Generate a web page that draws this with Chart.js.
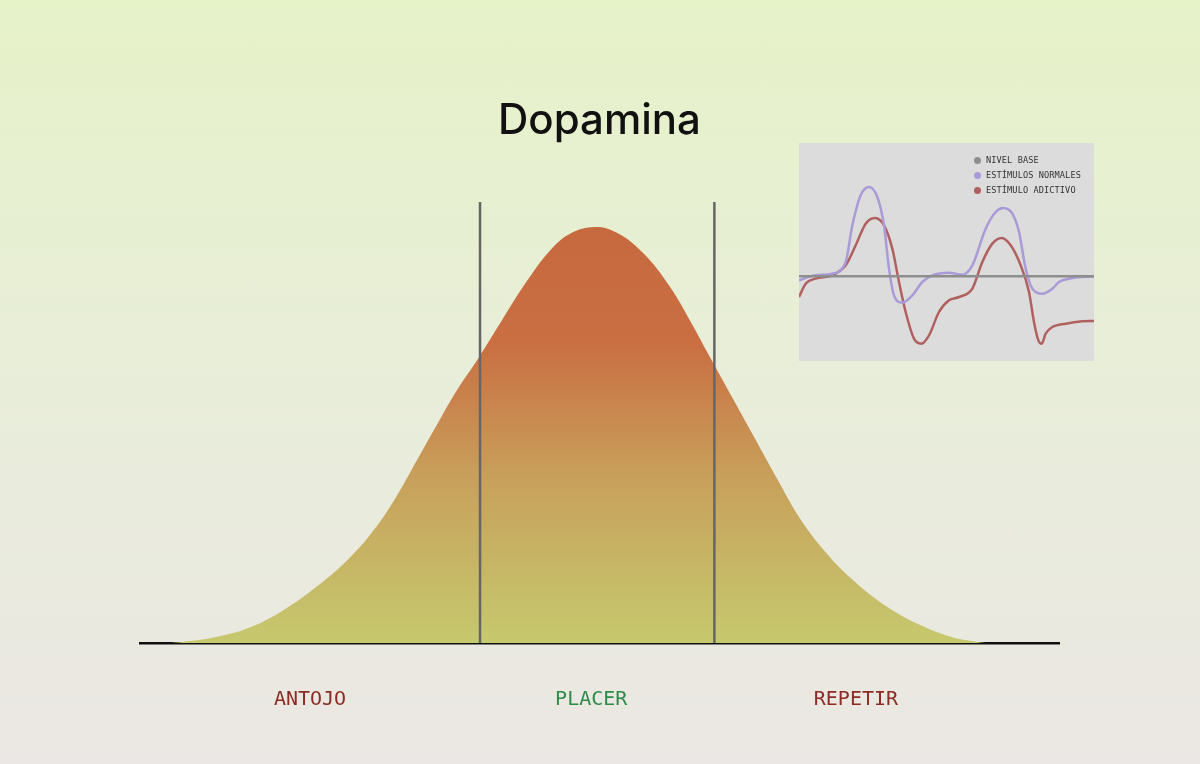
<!DOCTYPE html>
<html lang="es">
<head>
<meta charset="utf-8">
<title>Dopamina</title>
<script src="https://cdn.jsdelivr.net/npm/chart.js@4.4.1/dist/chart.umd.min.js"></script>
<style>
  html, body { margin: 0; padding: 0; }
  body {
    width: 1200px; height: 764px; overflow: hidden; position: relative;
    background: linear-gradient(to bottom, #e6f2c8 0%, #e8eed8 45%, #ebe7e4 100%);
  }
  #main { position: absolute; left: 0; top: 0; width: 1200px; height: 764px; }
  #inset {
    position: absolute; left: 799px; top: 143px; width: 295px; height: 218px;
    background: #dcdcdc;
  }
  #legend {
    position: absolute; left: 974px; top: 153px;
    font: 8.6px "DejaVu Sans Mono", monospace; color: #333;
    line-height: 15px; letter-spacing: 0.1px;
  }
  #legend span.dot {
    display: inline-block; width: 7px; height: 7px; border-radius: 50%;
    margin-right: 5px; vertical-align: -1px;
  }
</style>
</head>
<body>
<div id="main"><canvas id="dopaChart"></canvas></div>
<div id="inset"><canvas id="insetChart"></canvas></div>
<div id="legend"></div>
<script>
// === Curva principal ===
const curveX = [3, 4.4, 8.4, 12, 15.6, 19.2, 22.9, 25.8, 27.9, 30.1, 32.3, 34.5, 36.8, 39.5, 42.1, 44.6, 46.8, 49.5,
  51.9, 54.8, 57.7, 59.9, 61.8, 64.6, 66.7, 69.3, 71.8, 74.7, 77.6, 81.3, 84.9, 88.5, 91, 92];
const curveY = [0, 0.2, 1.5, 3.8, 7.9, 13.5, 20.7, 28.2, 35.2, 43.8, 52.4, 60.8, 68.4, 78.0, 87.0, 94.3, 98.4, 100,
  98.6, 93.6, 85.5, 77.3, 69.6, 58.4, 50.0, 39.6, 30.0, 21.6, 15.1, 8.7, 4.3, 1.3, 0.3, 0];
const splitX = [37, 62.5];
const splitTop = 106;
const phaseLabels = ['ANTOJO', 'PLACER', 'REPETIR'];
const phaseTicks = [18.5, 49.1, 77.9];
const phaseColors = ['#8c2c24', '#2e8c48', '#8c2c24'];

// === Gráfico pequeño ===
const baseX = [0, 88.5];
const baseY = [0, 0];
const normalX = [0, 5, 10, 14, 16, 18.5, 21, 23.5, 25.5, 27, 28.5, 31, 34, 37, 40, 45, 49, 52, 56, 59, 61.2, 64, 66,
  68, 70, 73, 76, 78, 82, 88.5];
const normalY = [-1.2, 0.3, 0.8, 4.3, 15.3, 24.3, 26.8, 23.8, 15.3, 2.3, -5.7, -7.9, -5.7, -1.7, 0.3, 1.1, 0.5, 3.3,
  14.3, 19.3, 20.5, 18.8, 13.3, 2.3, -3.7, -5.2, -3.7, -1.7, -0.5, 0];
const addictX = [0, 2, 5, 10, 14, 17, 20, 22.8, 25.5, 28, 30, 32, 34.5, 36.7, 39, 42, 45, 48, 52, 55, 58, 60.8, 63.5,
  66.5, 69, 70.5, 71.8, 72.8, 74, 76, 80, 85, 88.5];
const addictY = [-6.2, -2.2, -0.7, 0.3, 3.3, 9.3, 15.8, 17.5, 15.3, 8.3, -1.7, -10.7, -18.7, -20.2, -17.7, -10.7, -7.2,
  -6.2, -3.7, 4.3, 9.8, 11.5, 9.3, 3.3, -4.7, -13.7, -19.2, -20.2, -17.2, -15.2, -14.2, -13.5, -13.4];
const insetLabels = ['NIVEL BASE', 'ESTÍMULOS NORMALES', 'ESTÍMULO ADICTIVO'];
const insetColors = ['#8e8e8e', '#a99bd8', '#b0615f'];

const toPoints = (xs, ys) => xs.map((x, i) => ({ x: x, y: ys[i] }));

function curveFill(ctx) {
  const chart = ctx.chart;
  if (!chart.chartArea) return '#c8903f';
  const y = chart.scales.y;
  const g = chart.ctx.createLinearGradient(0, y.getPixelForValue(100), 0, y.getPixelForValue(0));
  g.addColorStop(0, '#c7693f');
  g.addColorStop(0.28, '#c96f42');
  g.addColorStop(0.62, '#c8a25c');
  g.addColorStop(1, '#c6c96e');
  return g;
}

new Chart(document.getElementById('dopaChart'), {
  type: 'line',
  data: {
    datasets: [
      {
        data: toPoints(curveX, curveY),
        fill: 'origin',
        backgroundColor: curveFill,
        borderWidth: 0,
        pointRadius: 0,
        tension: 0.4,
        order: 2
      },
      ...splitX.map(x => ({
        data: [{ x: x, y: 0 }, { x: x, y: splitTop }],
        borderColor: '#666666',
        borderWidth: 2.5,
        pointRadius: 0,
        fill: false,
        order: 1
      }))
    ]
  },
  options: {
    responsive: true,
    maintainAspectRatio: false,
    animation: false,
    layout: { padding: { left: 140, right: 141, top: 0, bottom: 7 } },
    plugins: {
      legend: { display: false },
      tooltip: { enabled: false },
      title: {
        display: true,
        text: 'Dopamina',
        color: '#111111',
        font: { family: 'Inter', size: 42, weight: '500' },
        padding: { top: 96, bottom: 39 }
      }
    },
    scales: {
      x: {
        type: 'linear',
        min: 0,
        max: 100,
        grid: { display: false, drawTicks: false },
        border: { display: true, color: '#111111', width: 2.5 },
        afterBuildTicks: scale => { scale.ticks = phaseTicks.map(v => ({ value: v })); },
        ticks: {
          autoSkip: false,
          maxRotation: 0,
          padding: 45,
          font: { family: 'DejaVu Sans Mono', size: 20 },
          color: ctx => phaseColors[ctx.index],
          callback: (value, index) => phaseLabels[index]
        }
      },
      y: { display: false, min: 0, max: 110 }
    }
  }
});

const insetSets = [toPoints(baseX, baseY), toPoints(normalX, normalY), toPoints(addictX, addictY)];

new Chart(document.getElementById('insetChart'), {
  type: 'line',
  data: {
    datasets: insetSets.map((pts, i) => ({
      label: insetLabels[i],
      data: pts,
      borderColor: insetColors[i],
      borderWidth: 2.5,
      pointRadius: 0,
      fill: false,
      cubicInterpolationMode: 'monotone'
    }))
  },
  options: {
    responsive: true,
    maintainAspectRatio: false,
    animation: false,
    layout: { padding: 0 },
    plugins: { legend: { display: false }, tooltip: { enabled: false } },
    scales: {
      x: { type: 'linear', display: false, min: 0, max: 88.5 },
      y: { display: false, min: -25.4, max: 40 }
    }
  }
});

// leyenda del gráfico pequeño
document.getElementById('legend').innerHTML = insetLabels
  .map((t, i) => '<div><span class="dot" style="background:' + insetColors[i] + '"></span>' + t + '</div>')
  .join('');
</script>
</body>
</html>
